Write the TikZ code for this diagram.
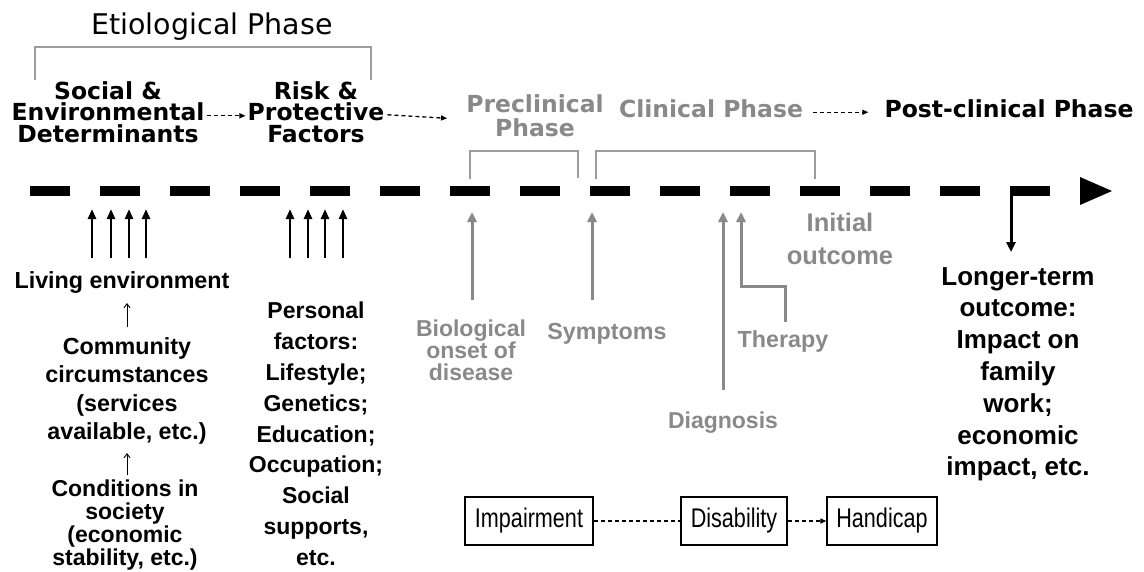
\documentclass[tikz,border=0pt]{standalone}
\usepackage{fontspec}
\setmainfont{Liberation Sans}
\newfontfamily\verd{DejaVu Sans}
\newfontfamily\narrowfont{Liberation Sans}[FakeStretch=0.8]
\usetikzlibrary{arrows.meta,calc}
\definecolor{phasegray}{HTML}{898989}
\definecolor{bracketgray}{HTML}{9C9C9C}

\begin{document}
\begin{tikzpicture}[x=1pt,y=-1pt,
  every node/.style={inner sep=0pt},
  verdb/.style={font=\verd\bfseries\fontsize{23.5}{21.5}\selectfont, align=center},
  ariab/.style={font=\bfseries\fontsize{23.3}{28.5}\selectfont, align=center},
  graytxt/.style={text=phasegray},
  bracket/.style={draw=bracketgray, line width=1.6pt},
  flowdash/.style={line width=1.3pt, dash pattern=on 4pt off 3pt},
  smalltip/.style={-{Triangle[length=6pt,width=5pt]}},
  upblack/.style={line width=2.6pt, -{Triangle[length=10pt,width=8pt]}},
  thinup/.style={line width=0.9pt, -{Straight Barb[length=4pt,width=6pt]}},
  upgray/.style={draw=phasegray, line width=3pt, -{Triangle[length=10pt,width=9pt,fill=phasegray]}},
  stagebox/.style={draw, line width=1.4pt, minimum height=48pt, font=\narrowfont\fontsize{27}{30}\selectfont}
]
\useasboundingbox (0,0) rectangle (1144,571);

% ---- etiological phase header ----
\node[font=\verd\fontsize{28.5}{30}\selectfont, anchor=base] (etio) at (212,34) {Etiological Phase};
\draw[bracket] (35,80) -- (35,47) -- (371,47) -- (371,80);

% ---- phase headings ----
\node[verdb, anchor=north] (soc) at (108,81) {Social \&\\Environmental\\Determinants};
\node[verdb, anchor=north] (risk) at (316,81) {Risk \&\\Protective\\Factors};
\node[verdb, graytxt, anchor=north, font=\verd\bfseries\fontsize{23.5}{24}\selectfont] (pre) at (535,94) {Preclinical\\Phase};
\node[verdb, graytxt, anchor=base] (clin) at (711,117) {Clinical Phase};
\node[verdb, anchor=base] (post) at (1009,117) {Post-clinical Phase};

\draw[flowdash, smalltip] ($(soc.east)+(2,4)$) -- ($(risk.west)+(-2,4)$);
\draw[flowdash, smalltip] ($(risk.east)+(3,3)$) -- ($(pre.west)+(-19,3)$);
\draw[flowdash, smalltip] ($(clin.east)+(10,4)$) -- ($(post.west)+(-16,4)$);

% ---- phase brackets ----
\draw[bracket] (470,179) -- (470,151) -- (578,151) -- (578,178);
\draw[bracket] (596,179) -- (596,151) -- (815,151) -- (815,179);

% ---- time line ----
\coordinate (tlA) at (30,191);
\coordinate (tlB) at (1050,191);
\draw[line width=10pt, dash pattern=on 40pt off 30pt] (tlA) -- (tlB);
\fill ($(tlB)+(30,-14)$) -- ($(tlB)+(62,0)$) -- ($(tlB)+(30,14)$) -- cycle;

% ---- etiological influences ----
\foreach \x [count=\i] in {92,111,129,146} {
  \coordinate (ea\i) at (\x,258);
  \coordinate (et\i) at (\x,209);
  \draw[upblack] (ea\i) -- (et\i);
}
\foreach \x [count=\i] in {290,308,325,343} {
  \coordinate (ra\i) at (\x,258);
  \coordinate (rt\i) at (\x,209);
  \draw[upblack] (ra\i) -- (rt\i);
}

\node[ariab, anchor=base] (live) at (122,288) {Living environment};
\node[ariab, anchor=north] (comm) at (127,337) {Community\\circumstances\\(services\\available, etc.)};
\node[ariab, anchor=north, font=\bfseries\fontsize{23}{23}\selectfont] (cond) at (125,480) {Conditions in\\society\\(economic\\stability, etc.)};
\draw[thinup] ($(comm.north)+(0,-10)$) -- ($(comm.north)+(0,-34)$);
\draw[thinup] ($(cond.north)+(2,-5)$) -- ($(cond.north)+(2,-27)$);

\node[ariab, anchor=north, font=\bfseries\fontsize{23}{30.8}\selectfont] (pers) at (316,302)
  {Personal\\factors:\\Lifestyle;\\Genetics;\\Education;\\Occupation;\\Social\\supports,\\etc.};

% ---- clinical events ----
\node[ariab, graytxt, anchor=north, font=\bfseries\fontsize{23}{22}\selectfont] (bio) at (471,320) {Biological\\onset of\\disease};
\node[ariab, graytxt, anchor=base] (sym) at (607,339) {Symptoms};
\node[ariab, graytxt, anchor=base] (ther) at (783,347) {Therapy};
\node[ariab, graytxt, anchor=base, font=\bfseries\fontsize{23}{23}\selectfont] (diag) at (723,428) {Diagnosis};
\node[ariab, graytxt, anchor=north, font=\bfseries\fontsize{25.5}{33}\selectfont] (init) at (840,213) {Initial\\outcome};

\coordinate (bioA) at (472,300);  \coordinate (bioT) at (472,212);
\coordinate (symA) at (592,300);  \coordinate (symT) at (592,212);
\coordinate (diagA) at (723,390); \coordinate (diagT) at (723,212);
\coordinate (therA) at (785,322); \coordinate (therT) at (741,212);
\draw[upgray] (bioA) -- (bioT);
\draw[upgray] (symA) -- (symT);
\draw[upgray] (diagA) -- (diagT);
\draw[upgray] (therA) -- (785,286) -- (741,286) -- (therT);

% ---- post-clinical outcome ----
\coordinate (hookA) at (1011,186);
\coordinate (hookT) at (1011,252);
\draw[line width=3pt, -{Triangle[length=10pt,width=9pt]}] (hookA) -- (hookT);
\node[ariab, anchor=north, font=\bfseries\fontsize{26}{31.8}\selectfont] (longer) at (1018,267)
  {Longer-term\\outcome:\\Impact on\\family\\work;\\economic\\impact, etc.};

% ---- consequences ----
\node[stagebox, minimum width=128pt] (imp) at (529,521) {Impairment};
\node[stagebox, minimum width=106pt] (dis) at (734,521) {Disability};
\node[stagebox, minimum width=110pt] (han) at (882,521) {Handicap};
\draw[flowdash] (imp) -- (dis);
\draw[flowdash, smalltip] (dis) -- (han);
\end{tikzpicture}
\end{document}
